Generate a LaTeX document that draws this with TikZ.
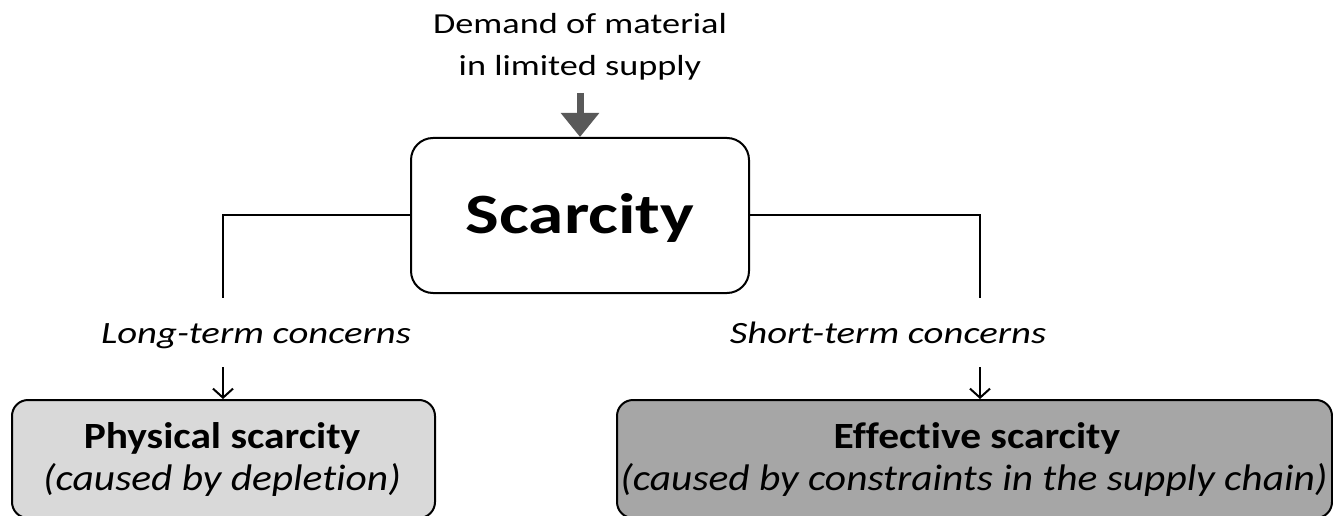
\documentclass[tikz,border=0pt]{standalone}
\usepackage{fontspec}
\setmainfont{Carlito}[FakeStretch=1.25,Ligatures=NoCommon]
\newfontfamily\boxfamily{Carlito}[FakeStretch=1.12,Ligatures=NoCommon]
\usetikzlibrary{arrows.meta}
\tikzset{
  px/.style={x=1pt,y=-1pt},
  line/.style={line width=2.6pt,black},
  smallarrow/.style={line width=2pt,-{Straight Barb[length=9pt,width=20pt,line width=2pt]}},
  box/.style={draw=black,line width=2pt,rounded corners=16pt,inner sep=0pt},
  txt/.style={inner sep=0pt,anchor=base},
  demandfont/.style={font=\fontsize{29}{42}\selectfont},
  concernfont/.style={font=\fontsize{31}{38}\selectfont\itshape},
  boldbox/.style={font=\boxfamily\fontsize{37}{42}\selectfont\bfseries},
  itbox/.style={font=\boxfamily\fontsize{37}{42}\selectfont\itshape},
}
\definecolor{lightbox}{HTML}{D9D9D9}
\definecolor{darkbox}{HTML}{A6A6A6}
\definecolor{arrowgray}{HTML}{595959}
\begin{document}
\begin{tikzpicture}[px]
\useasboundingbox (0,0) rectangle (1333,516);
\clip (0,0) rectangle (1333,516);
% top text
\node[txt,demandfont] (d1) at (580,34) {Demand of material};
\node[txt,demandfont] (d2) at (580,76) {in limited supply};
% main box
\node[box,minimum width=338pt,minimum height=155pt,rounded corners=22pt] (scar) at (580,215.5) {};
\node[txt,font=\fontsize{57}{70}\selectfont\bfseries] (scart) at (580,233) {Scarcity};
\coordinate (ds) at (580,93);
\draw[line width=7pt,draw=arrowgray,-{Triangle[length=24pt,width=37pt]},fill=arrowgray] (ds) -- (scar.north);
% branches
\coordinate (lc) at (223,215);
\coordinate (ld) at (223,298);
\coordinate (rc) at (980,215);
\coordinate (rd) at (980,298);
\draw[line] (scar.west |- lc) -- (lc) -- (ld);
\draw[line] (scar.east |- rc) -- (rc) -- (rd);
\node[txt,concernfont] (lt) at (256,343) {Long-term concerns};
\node[txt,concernfont] (st) at (888,343) {Short-term concerns};
% lower boxes
\node[box,fill=lightbox,minimum width=423pt,minimum height=118pt] (phys) at (223.5,459) {};
\node[box,fill=darkbox,minimum width=715pt,minimum height=118pt] (eff) at (974.5,459) {};
\coordinate (la) at (223,367);
\coordinate (ra) at (980,367);
\draw[smallarrow] (la) -- (la |- phys.north);
\draw[smallarrow] (ra) -- (ra |- eff.north);
\node[txt,boldbox] (p1) at (222,448) {Physical scarcity};
\node[txt,itbox] (p2) at (222,490) {(caused by depletion)};
\node[txt,boldbox] (e1) at (977,448) {Effective scarcity};
\node[txt,itbox] (e2) at (974,490) {(caused by constraints in the supply chain)};
\end{tikzpicture}
\end{document}
